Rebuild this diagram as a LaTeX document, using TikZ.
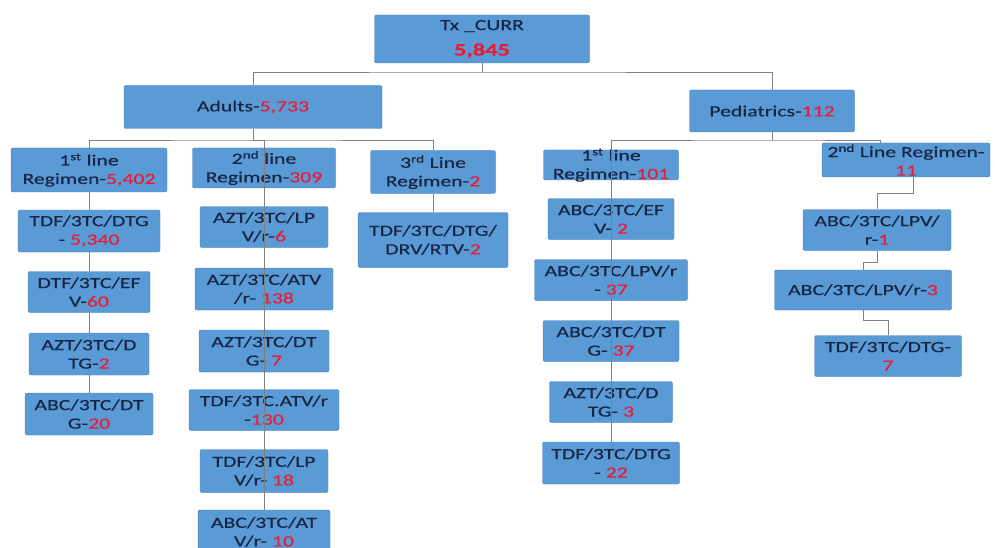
\documentclass[tikz,border=0pt]{standalone}
\usepackage{fontspec}
\setmainfont[FakeStretch=1.4,FakeBold=0.6]{Carlito}
\usetikzlibrary{backgrounds}
\definecolor{boxblue}{RGB}{91,155,213}
\definecolor{boxedge}{RGB}{70,125,180}
\definecolor{txtnavy}{RGB}{22,38,72}
\definecolor{numred}{RGB}{232,28,58}
\definecolor{linegray}{RGB}{128,128,128}
\newcommand\rn[1]{\textcolor{numred}{#1}}
\begin{document}
\begin{tikzpicture}[x=1pt,y=-1pt,
  bx/.style={draw=boxedge, fill=boxblue, rounded corners=2pt, align=center,
    inner sep=0pt, text=txtnavy, font=\fontsize{15.5}{18.5}\selectfont},
  box/.style 2 args={bx, minimum width=#1, minimum height=#2},
  ln/.style={draw=linegray, line width=0.8pt}]
\clip (0,0) rectangle (995,548);
% top levels
\node[box={215}{48}] (tx) at (482,39) {Tx \_CURR\\[7pt]{\fontsize{17.5}{18.5}\selectfont\textbf{\rn{5,845}}}};
\node[box={258}{43}] (adults) at (253,107) {Adults-\rn{5,733}};
\node[box={165}{42}] (ped) at (772,111) {Pediatrics-\rn{112}};
% adults regimens
\node[box={156}{44}] (a1) at (89,170) {1\textsuperscript{st} line\\Regimen-\rn{5,402}};
\node[box={143}{40}] (a2) at (264,168) {2\textsuperscript{nd} line\\Regimen-\rn{309}};
\node[box={125}{43}] (a3) at (433,172) {3\textsuperscript{rd} Line\\Regimen-\rn{2}};
% pediatric regimens
\node[box={135}{30}, inner ysep=-3pt] (p1) at (611,165) {1\textsuperscript{st} line\\Regimen-\rn{101}};
\node[box={168}{34}, inner ysep=-2pt] (p2) at (906,160) {2\textsuperscript{nd} Line Regimen-\\\rn{11}};
% adults 1st line
\node[box={142}{42}] (c1) at (89,231) {TDF/3TC/DTG\\- \rn{5,340}};
\node[box={122}{41}] (c2) at (89,292) {DTF/3TC/EF\\V-\rn{60}};
\node[box={120}{42}] (c3) at (89,354) {AZT/3TC/D\\TG-\rn{2}};
\node[box={128}{42}] (c4) at (89,414) {ABC/3TC/DT\\G-\rn{20}};
% adults 2nd line
\node[box={128}{41}] (d1) at (264,227) {AZT/3TC/LP\\V/r-\rn{6}};
\node[box={138}{42}] (d2) at (264,289) {AZT/3TC/ATV\\/r- \rn{138}};
\node[box={130}{42}] (d3) at (264,351) {AZT/3TC/DT\\G- \rn{7}};
\node[box={150}{41}] (d4) at (264,410) {TDF/3TC.ATV/r\\-\rn{130}};
\node[box={128}{43}] (d5) at (264,471) {TDF/3TC/LP\\V/r- \rn{18}};
\node[box={132}{44}] (d6) at (264,532) {ABC/3TC/AT\\V/r- \rn{10}};
% adults 3rd line
\node[box={150}{55}] (e1) at (433,240) {TDF/3TC/DTG/\\DRV/RTV-\rn{2}};
% pediatric 1st line
\node[box={126}{41}] (f1) at (611,219) {ABC/3TC/EF\\V- \rn{2}};
\node[box={153}{41}] (f2) at (611,280) {ABC/3TC/LPV/r\\- \rn{37}};
\node[box={136}{41}] (f3) at (611,341) {ABC/3TC/DT\\G- \rn{37}};
\node[box={123}{41}] (f4) at (611,402) {AZT/3TC/D\\TG- \rn{3}};
\node[box={137}{42}] (f5) at (611,463) {TDF/3TC/DTG\\- \rn{22}};
% pediatric 2nd line
\node[box={148}{41}] (q1) at (877,230) {ABC/3TC/LPV/\\r-\rn{1}};
\node[box={177}{40}] (q2) at (863,290) {ABC/3TC/LPV/r-\rn{3}};
\node[box={147}{41}] (q3) at (888,356) {TDF/3TC/DTG-\\\rn{7}};
% connectors behind
\begin{pgfonlayer}{background}
\fill[white] (0,0) rectangle (995,548);
\coordinate (b0) at (482,72);
\draw[ln] (tx.south) -- (b0);
\draw[ln] (adults.north) |- (b0) -| (ped.north);
\coordinate (b1) at (253,140);
\draw[ln] (adults.south) -- (b1);
\draw[ln] (a1.north) |- (b1) -| (a3.north);
\draw[ln] (b1) -| (a2.north);
\coordinate (b2) at (772,140);
\draw[ln] (ped.south) -- (b2);
\draw[ln] (p1.north) |- (b2) -| ([xshift=-26pt]p2.north);
\draw[ln] (a1.south) -- (c1.north) (c1.south) -- (c2.north)
          (c2.south) -- (c3.north) (c3.south) -- (c4.north);
\draw[ln] (a3.south) -- (e1.north);
\draw[ln] ([xshift=7pt]p2.south) -- ++(0,16) -| (q1.north);
\draw[ln] (q1.south) -- ++(0,12) -| (q2.north);
\draw[ln] (q2.south) -- ++(0,10) -| (q3.north);
\end{pgfonlayer}
% lines running over the boxes
\draw[ln, line width=0.6pt] (a2.north) -- (d6.north);
\draw[ln, line width=0.6pt] (p1.north) -- (f5.north);
\end{tikzpicture}
\end{document}
